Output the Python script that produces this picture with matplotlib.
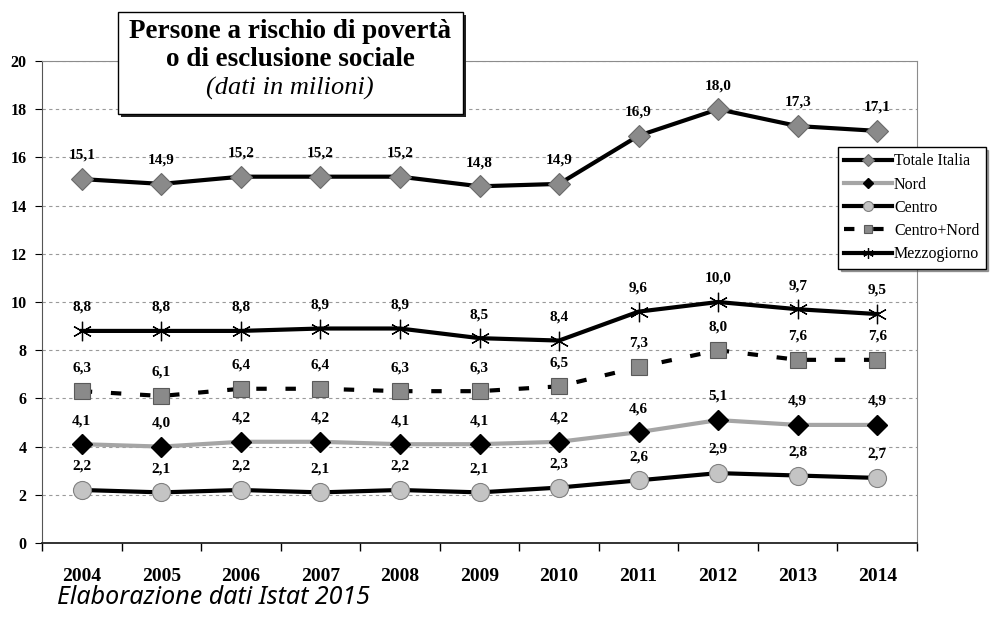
import matplotlib
matplotlib.use('Agg')
import matplotlib.pyplot as plt
from matplotlib.patches import Rectangle

# dati (milioni di persone)
anni = ['2004', '2005', '2006', '2007', '2008', '2009', '2010', '2011', '2012', '2013', '2014']
totale_italia = [15.1, 14.9, 15.2, 15.2, 15.2, 14.8, 14.9, 16.9, 18.0, 17.3, 17.1]
nord = [4.1, 4.0, 4.2, 4.2, 4.1, 4.1, 4.2, 4.6, 5.1, 4.9, 4.9]
centro = [2.2, 2.1, 2.2, 2.1, 2.2, 2.1, 2.3, 2.6, 2.9, 2.8, 2.7]
centro_nord = [6.3, 6.1, 6.4, 6.4, 6.3, 6.3, 6.5, 7.3, 8.0, 7.6, 7.6]
mezzogiorno = [8.8, 8.8, 8.8, 8.9, 8.9, 8.5, 8.4, 9.6, 10.0, 9.7, 9.5]

plt.rcParams['font.family'] = ['Liberation Serif', 'DejaVu Serif']

W, H = 991, 617
fig = plt.figure(figsize=(W / 100, H / 100), dpi=100)
ax = fig.add_axes([42 / W, 1 - 543 / H, 875 / W, 482 / H])

x = list(range(len(anni)))

ax.plot(x, totale_italia, color='black', lw=3, marker='D', ms=11,
        mfc='#8a8a8a', mec='#6a6a6a', mew=0.8, label='Totale Italia', zorder=4)
ax.plot(x, nord, color='#a5a5a5', lw=3, marker='D', ms=10,
        mfc='black', mec='black', label='Nord', zorder=4)
ax.plot(x, centro, color='black', lw=3, marker='o', ms=13,
        mfc='#c4c4c4', mec='#808080', mew=0.8, label='Centro', zorder=4)
ax.plot(x, centro_nord, color='black', lw=3, dashes=(2.5, 4.5), marker='s', ms=11,
        mfc='#8a8a8a', mec='#5a5a5a', mew=0.8, label='Centro+Nord', zorder=4)
ax.plot(x, mezzogiorno, color='black', lw=3, marker=(6, 2, 0), ms=14,
        mec='black', mew=0.9, label='Mezzogiorno', zorder=4)

# etichette dei valori sopra i punti
for serie in [totale_italia, nord, centro, centro_nord, mezzogiorno]:
    for i, v in enumerate(serie):
        ax.annotate(f'{v:.1f}'.replace('.', ','), (i, v), xytext=(0, 17),
                    textcoords='offset points', ha='center', va='center',
                    fontsize=11, fontweight='bold', zorder=6)

ax.set_xlim(-0.5, len(anni) - 0.5)
ax.set_ylim(0, 20)
ax.set_yticks(range(0, 21, 2))
ax.set_xticks(x)
ax.set_xticklabels(anni, fontsize=14, fontweight='bold')
ax.set_xticks([i - 0.5 for i in range(len(anni) + 1)], minor=True)
ax.tick_params(axis='x', which='major', length=0, pad=18)
ax.tick_params(axis='x', which='minor', length=6, direction='out', width=1)
ax.tick_params(axis='y', length=5, direction='out', pad=6, labelsize=11.5)
for lab in ax.get_yticklabels():
    lab.set_fontweight('bold')

ax.grid(axis='y', color='#9a9a9a', ls=(0, (3, 3)), lw=0.8)
ax.set_axisbelow(True)
for s in ['top', 'right']:
    ax.spines[s].set_color('#8c8c8c')
ax.spines['left'].set_color('#555555')
ax.spines['bottom'].set_color('#222222')
ax.spines['bottom'].set_linewidth(1.3)

leg = ax.legend(loc='upper left', bbox_to_anchor=(838 / W, 1 - 147 / H),
                bbox_transform=fig.transFigure, fontsize=11.5, frameon=True,
                fancybox=False, shadow=True, edgecolor='black', framealpha=1,
                handlelength=3.0, labelspacing=0.45, borderpad=0.4,
                handletextpad=0.1, markerscale=0.55, borderaxespad=0)
leg.set_zorder(7)
leg.get_frame().set_linewidth(1)

# riquadro del titolo
ft = fig.transFigure
fig.patches.append(Rectangle((121 / W, 1 - 117 / H), 345 / W, 102 / H, transform=ft,
                             facecolor='#222222', edgecolor='none', zorder=8))
fig.patches.append(Rectangle((118 / W, 1 - 114 / H), 345 / W, 102 / H, transform=ft,
                             facecolor='white', edgecolor='black', lw=1, zorder=9))
fig.text(290 / W, 1 - 32 / H, 'Persone a rischio di povertà', ha='center', va='center',
         fontsize=19.5, fontweight='bold', zorder=10)
fig.text(290 / W, 1 - 60 / H, 'o di esclusione sociale', ha='center', va='center',
         fontsize=19.5, fontweight='bold', zorder=10)
fig.text(290 / W, 1 - 88 / H, '(dati in milioni)', ha='center', va='center',
         fontsize=19, style='italic', zorder=10)

fig.text(57 / W, 1 - 597 / H, 'Elaborazione dati Istat 2015', ha='left', va='center',
         fontsize=18, style='italic', family='Noto Sans')

fig.savefig('out.png', dpi=100)
